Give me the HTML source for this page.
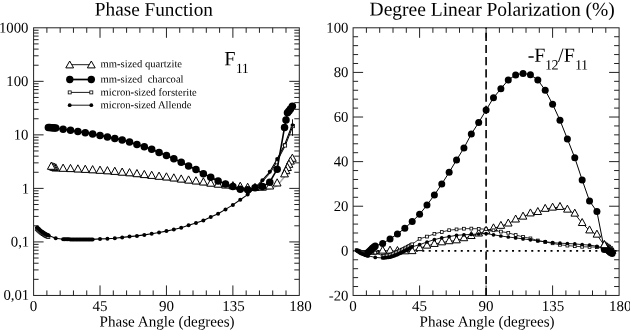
<!DOCTYPE html>
<html><head><meta charset="utf-8"><title>Phase Function / Degree Linear Polarization</title>
<style>html,body{margin:0;padding:0;background:#fff}svg{display:block;will-change:transform}text{font-family:"Liberation Serif",serif;fill:#000}</style></head><body>
<svg width="630" height="330" viewBox="0 0 630 330">
<rect width="630" height="330" fill="#fff"/>
<text x="94.8" y="15.6" font-size="19.25" transform="rotate(0.03 94.8 15.6)">Phase Function</text>
<text x="369.6" y="15.6" font-size="19.5" transform="rotate(0.03 369.6 15.6)">Degree Linear Polarization (%)</text>
<text x="99.6" y="326.4" font-size="15.1" transform="rotate(0.03 99.6 326.4)">Phase Angle (degrees)</text>
<text x="419.6" y="326.4" font-size="15.1" transform="rotate(0.03 419.6 326.4)">Phase Angle (degrees)</text>
<text x="29.2" y="299.65" font-size="14.75" text-anchor="end" transform="rotate(0.03 29.2 299.65)">0,01</text>
<text x="29.2" y="246.62" font-size="14.75" text-anchor="end" transform="rotate(0.03 29.2 246.62)">0,1</text>
<text x="29.2" y="193.49" font-size="14.75" text-anchor="end" transform="rotate(0.03 29.2 193.49)">1</text>
<text x="28.4" y="139.56" font-size="14.75" text-anchor="end" transform="rotate(0.03 28.4 139.56)">10</text>
<text x="28.4" y="86.03" font-size="14.75" text-anchor="end" transform="rotate(0.03 28.4 86.03)">100</text>
<text x="28.4" y="32.5" font-size="14.75" text-anchor="end" transform="rotate(0.03 28.4 32.5)">1000</text>
<text x="348.4" y="300.45" font-size="14.75" text-anchor="end" transform="rotate(0.03 348.4 300.45)">-20</text>
<text x="348.4" y="255.54" font-size="14.75" text-anchor="end" transform="rotate(0.03 348.4 255.54)">0</text>
<text x="348.4" y="210.93" font-size="14.75" text-anchor="end" transform="rotate(0.03 348.4 210.93)">20</text>
<text x="348.4" y="166.32" font-size="14.75" text-anchor="end" transform="rotate(0.03 348.4 166.32)">40</text>
<text x="348.4" y="121.72" font-size="14.75" text-anchor="end" transform="rotate(0.03 348.4 121.72)">60</text>
<text x="348.4" y="77.11" font-size="14.75" text-anchor="end" transform="rotate(0.03 348.4 77.11)">80</text>
<text x="348.4" y="32.5" font-size="14.75" text-anchor="end" transform="rotate(0.03 348.4 32.5)">100</text>
<text x="33.6" y="311.0" font-size="15" text-anchor="middle" transform="rotate(0.03 33.6 311.0)">0</text>
<text x="353.1" y="311.0" font-size="15" text-anchor="middle" transform="rotate(0.03 353.1 311.0)">0</text>
<text x="100.03" y="311.0" font-size="15" text-anchor="middle" transform="rotate(0.03 100.03 311.0)">45</text>
<text x="419.6" y="311.0" font-size="15" text-anchor="middle" transform="rotate(0.03 419.6 311.0)">45</text>
<text x="166.45" y="311.0" font-size="15" text-anchor="middle" transform="rotate(0.03 166.45 311.0)">90</text>
<text x="486.1" y="311.0" font-size="15" text-anchor="middle" transform="rotate(0.03 486.1 311.0)">90</text>
<text x="233.38" y="311.0" font-size="15" text-anchor="middle" transform="rotate(0.03 233.38 311.0)">135</text>
<text x="553.1" y="311.0" font-size="15" text-anchor="middle" transform="rotate(0.03 553.1 311.0)">135</text>
<text x="300.5" y="311.0" font-size="15" text-anchor="middle" transform="rotate(0.03 300.5 311.0)">180</text>
<text x="620.3" y="311.0" font-size="15" text-anchor="middle" transform="rotate(0.03 620.3 311.0)">180</text>
<g id="left">
<rect x="33.6" y="27.8" width="265.7" height="267.65" fill="none" stroke="#222" stroke-width="1"/>
<path d="M46.88 295.45v-5M46.88 27.8v5M60.17 295.45v-5M60.17 27.8v5M73.45 295.45v-5M73.45 27.8v5M86.74 295.45v-5M86.74 27.8v5M100.03 295.45v-10M100.03 27.8v10M113.31 295.45v-5M113.31 27.8v5M126.59 295.45v-5M126.59 27.8v5M139.88 295.45v-5M139.88 27.8v5M153.16 295.45v-5M153.16 27.8v5M166.45 295.45v-10M166.45 27.8v10M179.73 295.45v-5M179.73 27.8v5M193.02 295.45v-5M193.02 27.8v5M206.3 295.45v-5M206.3 27.8v5M219.59 295.45v-5M219.59 27.8v5M232.88 295.45v-10M232.88 27.8v10M246.16 295.45v-5M246.16 27.8v5M259.44 295.45v-5M259.44 27.8v5M272.73 295.45v-5M272.73 27.8v5M286.01 295.45v-5M286.01 27.8v5M33.6 241.92h10M299.3 241.92h-10M33.6 188.39h10M299.3 188.39h-10M33.6 134.86h10M299.3 134.86h-10M33.6 81.33h10M299.3 81.33h-10M33.6 279.34h5M299.3 279.34h-5M33.6 269.91h5M299.3 269.91h-5M33.6 263.22h5M299.3 263.22h-5M33.6 258.03h5M299.3 258.03h-5M33.6 253.8h5M299.3 253.8h-5M33.6 250.21h5M299.3 250.21h-5M33.6 247.11h5M299.3 247.11h-5M33.6 244.37h5M299.3 244.37h-5M33.6 225.81h5M299.3 225.81h-5M33.6 216.38h5M299.3 216.38h-5M33.6 209.69h5M299.3 209.69h-5M33.6 204.5h5M299.3 204.5h-5M33.6 200.27h5M299.3 200.27h-5M33.6 196.68h5M299.3 196.68h-5M33.6 193.58h5M299.3 193.58h-5M33.6 190.84h5M299.3 190.84h-5M33.6 172.28h5M299.3 172.28h-5M33.6 162.85h5M299.3 162.85h-5M33.6 156.16h5M299.3 156.16h-5M33.6 150.97h5M299.3 150.97h-5M33.6 146.74h5M299.3 146.74h-5M33.6 143.15h5M299.3 143.15h-5M33.6 140.05h5M299.3 140.05h-5M33.6 137.31h5M299.3 137.31h-5M33.6 118.75h5M299.3 118.75h-5M33.6 109.32h5M299.3 109.32h-5M33.6 102.63h5M299.3 102.63h-5M33.6 97.44h5M299.3 97.44h-5M33.6 93.21h5M299.3 93.21h-5M33.6 89.62h5M299.3 89.62h-5M33.6 86.52h5M299.3 86.52h-5M33.6 83.78h5M299.3 83.78h-5M33.6 65.22h5M299.3 65.22h-5M33.6 55.79h5M299.3 55.79h-5M33.6 49.1h5M299.3 49.1h-5M33.6 43.91h5M299.3 43.91h-5M33.6 39.68h5M299.3 39.68h-5M33.6 36.09h5M299.3 36.09h-5M33.6 32.99h5M299.3 32.99h-5M33.6 30.25h5M299.3 30.25h-5" stroke="#222" stroke-width="1" fill="none"/>
<polyline points="51.31,169.1 52.79,169.67 54.27,170.23 55.74,170.8 63.12,171.1 70.5,171.4 77.88,171.8 85.26,172.2 92.64,172.6 100.03,173.1 107.41,173.6 114.79,174.2 122.17,175 129.55,175.6 136.93,176.5 144.31,177.4 151.69,178.2 159.07,179.1 166.45,179.8 173.83,180.8 181.21,181.9 188.59,182.9 195.97,183.8 203.35,184.8 210.73,186 218.11,187 225.49,187.8 232.88,188.6 240.26,189.2 247.64,190.2 255.02,190.3 262.4,190 269.78,188.8 277.16,185.8 284.54,176.7" fill="none" stroke="#aaa" stroke-width="1.4" stroke-linejoin="round"/>
<path d="M292.36 154.1L296.26 161.3H288.46Z" fill="#fff" stroke="#000" stroke-width="1.0"/>
<path d="M290.44 156.9L294.34 164.1H286.54Z" fill="#fff" stroke="#000" stroke-width="1.0"/>
<path d="M288.97 160.1L292.87 167.3H285.07Z" fill="#fff" stroke="#000" stroke-width="1.0"/>
<path d="M287.49 163.3L291.39 170.5H283.59Z" fill="#fff" stroke="#000" stroke-width="1.0"/>
<path d="M286.01 166.5L289.91 173.7H282.12Z" fill="#fff" stroke="#000" stroke-width="1.0"/>
<path d="M284.54 169.7L288.44 176.9H280.64Z" fill="#fff" stroke="#000" stroke-width="1.0"/>
<path d="M277.16 178.8L281.06 186H273.26Z" fill="#fff" stroke="#000" stroke-width="1.0"/>
<path d="M269.78 181.8L273.68 189H265.88Z" fill="#fff" stroke="#000" stroke-width="1.0"/>
<path d="M262.4 183L266.3 190.2H258.5Z" fill="#fff" stroke="#000" stroke-width="1.0"/>
<path d="M255.02 183.3L258.92 190.5H251.12Z" fill="#fff" stroke="#000" stroke-width="1.0"/>
<path d="M247.64 183.2L251.54 190.4H243.74Z" fill="#fff" stroke="#000" stroke-width="1.0"/>
<path d="M240.26 182.2L244.16 189.4H236.36Z" fill="#fff" stroke="#000" stroke-width="1.0"/>
<path d="M232.88 181.6L236.78 188.8H228.97Z" fill="#fff" stroke="#000" stroke-width="1.0"/>
<path d="M225.49 180.8L229.39 188H221.59Z" fill="#fff" stroke="#000" stroke-width="1.0"/>
<path d="M218.11 180L222.01 187.2H214.21Z" fill="#fff" stroke="#000" stroke-width="1.0"/>
<path d="M210.73 179L214.63 186.2H206.83Z" fill="#fff" stroke="#000" stroke-width="1.0"/>
<path d="M203.35 177.8L207.25 185H199.45Z" fill="#fff" stroke="#000" stroke-width="1.0"/>
<path d="M195.97 176.8L199.87 184H192.07Z" fill="#fff" stroke="#000" stroke-width="1.0"/>
<path d="M188.59 175.9L192.49 183.1H184.69Z" fill="#fff" stroke="#000" stroke-width="1.0"/>
<path d="M181.21 174.9L185.11 182.1H177.31Z" fill="#fff" stroke="#000" stroke-width="1.0"/>
<path d="M173.83 173.8L177.73 181H169.93Z" fill="#fff" stroke="#000" stroke-width="1.0"/>
<path d="M166.45 172.8L170.35 180H162.55Z" fill="#fff" stroke="#000" stroke-width="1.0"/>
<path d="M159.07 172.1L162.97 179.3H155.17Z" fill="#fff" stroke="#000" stroke-width="1.0"/>
<path d="M151.69 171.2L155.59 178.4H147.79Z" fill="#fff" stroke="#000" stroke-width="1.0"/>
<path d="M144.31 170.4L148.21 177.6H140.41Z" fill="#fff" stroke="#000" stroke-width="1.0"/>
<path d="M136.93 169.5L140.83 176.7H133.03Z" fill="#fff" stroke="#000" stroke-width="1.0"/>
<path d="M129.55 168.6L133.45 175.8H125.65Z" fill="#fff" stroke="#000" stroke-width="1.0"/>
<path d="M122.17 168L126.07 175.2H118.27Z" fill="#fff" stroke="#000" stroke-width="1.0"/>
<path d="M114.79 167.2L118.69 174.4H110.89Z" fill="#fff" stroke="#000" stroke-width="1.0"/>
<path d="M107.41 166.6L111.31 173.8H103.51Z" fill="#fff" stroke="#000" stroke-width="1.0"/>
<path d="M100.03 166.1L103.93 173.3H96.12Z" fill="#fff" stroke="#000" stroke-width="1.0"/>
<path d="M92.64 165.6L96.54 172.8H88.74Z" fill="#fff" stroke="#000" stroke-width="1.0"/>
<path d="M85.26 165.2L89.16 172.4H81.36Z" fill="#fff" stroke="#000" stroke-width="1.0"/>
<path d="M77.88 164.8L81.78 172H73.98Z" fill="#fff" stroke="#000" stroke-width="1.0"/>
<path d="M70.5 164.4L74.4 171.6H66.6Z" fill="#fff" stroke="#000" stroke-width="1.0"/>
<path d="M63.12 164.1L67.02 171.3H59.22Z" fill="#fff" stroke="#000" stroke-width="1.0"/>
<path d="M55.74 163.8L59.64 171H51.84Z" fill="#fff" stroke="#000" stroke-width="1.0"/>
<path d="M54.27 163.23L58.17 170.43H50.37Z" fill="#fff" stroke="#000" stroke-width="1.0"/>
<path d="M52.79 162.67L56.69 169.87H48.89Z" fill="#fff" stroke="#000" stroke-width="1.0"/>
<path d="M51.31 162.1L55.21 169.3H47.41Z" fill="#fff" stroke="#000" stroke-width="1.0"/>
<polyline points="37.14,227.5 38.03,228.31 38.91,229.12 39.8,229.92 40.69,230.73 41.57,231.4 42.46,232 43.34,232.6 44.23,233.2 45.11,233.8 46,234.28 46.88,234.69 47.77,235.11 48.66,235.52 55.74,238.2 63.12,239.2 64.6,239.24 66.07,239.28 67.55,239.32 69.03,239.36 70.5,239.4 71.98,239.44 73.45,239.48 74.93,239.52 76.41,239.56 77.88,239.6 79.36,239.58 80.84,239.56 82.31,239.54 83.79,239.52 85.26,239.5 86.74,239.48 88.22,239.46 89.69,239.44 91.17,239.42 92.64,239.4 100.03,238.9 107.41,238.7 114.79,238.2 122.17,237.4 129.55,236.6 136.93,235.9 144.31,234.9 151.69,233.8 159.07,232.5 166.45,231.1 173.83,229.5 181.21,227.7 188.59,225.3 195.97,222.9 203.35,220.4 210.73,217.1 218.11,213.8 225.49,209.4 232.88,204.9 240.26,199.8 247.64,194.6 255.02,187.8 262.4,180.2 269.78,171.8 277.16,159 284.54,144.9 292.51,124.3" fill="none" stroke="#000" stroke-width="1.1" stroke-linejoin="round"/>
<polyline points="255.82,188.4 263.2,180.8 270.58,172.4 277.96,159.6 285.34,145.5 293.31,124.9" fill="none" stroke="#000" stroke-width="1" stroke-linejoin="round"/>
<rect x="35.34" y="227.5" width="3.0" height="3.0" fill="#fff" stroke="#000" stroke-width="0.8"/>
<rect x="36.23" y="228.31" width="3.0" height="3.0" fill="#fff" stroke="#000" stroke-width="0.8"/>
<rect x="37.11" y="229.12" width="3.0" height="3.0" fill="#fff" stroke="#000" stroke-width="0.8"/>
<rect x="38" y="229.92" width="3.0" height="3.0" fill="#fff" stroke="#000" stroke-width="0.8"/>
<rect x="38.89" y="230.73" width="3.0" height="3.0" fill="#fff" stroke="#000" stroke-width="0.8"/>
<rect x="39.77" y="231.4" width="3.0" height="3.0" fill="#fff" stroke="#000" stroke-width="0.8"/>
<rect x="40.66" y="232" width="3.0" height="3.0" fill="#fff" stroke="#000" stroke-width="0.8"/>
<rect x="41.54" y="232.6" width="3.0" height="3.0" fill="#fff" stroke="#000" stroke-width="0.8"/>
<rect x="42.43" y="233.2" width="3.0" height="3.0" fill="#fff" stroke="#000" stroke-width="0.8"/>
<rect x="43.31" y="233.8" width="3.0" height="3.0" fill="#fff" stroke="#000" stroke-width="0.8"/>
<rect x="44.2" y="234.28" width="3.0" height="3.0" fill="#fff" stroke="#000" stroke-width="0.8"/>
<rect x="45.09" y="234.69" width="3.0" height="3.0" fill="#fff" stroke="#000" stroke-width="0.8"/>
<rect x="45.97" y="235.11" width="3.0" height="3.0" fill="#fff" stroke="#000" stroke-width="0.8"/>
<rect x="46.86" y="235.52" width="3.0" height="3.0" fill="#fff" stroke="#000" stroke-width="0.8"/>
<circle cx="37.14" cy="227.5" r="2.0" fill="#000"/>
<circle cx="38.03" cy="228.31" r="2.0" fill="#000"/>
<circle cx="38.91" cy="229.12" r="2.0" fill="#000"/>
<circle cx="39.8" cy="229.92" r="2.0" fill="#000"/>
<circle cx="40.69" cy="230.73" r="2.0" fill="#000"/>
<circle cx="41.57" cy="231.4" r="2.0" fill="#000"/>
<circle cx="42.46" cy="232" r="2.0" fill="#000"/>
<circle cx="43.34" cy="232.6" r="2.0" fill="#000"/>
<circle cx="44.23" cy="233.2" r="2.0" fill="#000"/>
<circle cx="45.11" cy="233.8" r="2.0" fill="#000"/>
<circle cx="46" cy="234.28" r="2.0" fill="#000"/>
<circle cx="46.88" cy="234.69" r="2.0" fill="#000"/>
<circle cx="47.77" cy="235.11" r="2.0" fill="#000"/>
<circle cx="48.66" cy="235.52" r="2.0" fill="#000"/>
<circle cx="55.74" cy="238.2" r="2.0" fill="#000"/>
<circle cx="63.12" cy="239.2" r="2.0" fill="#000"/>
<circle cx="64.6" cy="239.24" r="2.0" fill="#000"/>
<circle cx="66.07" cy="239.28" r="2.0" fill="#000"/>
<circle cx="67.55" cy="239.32" r="2.0" fill="#000"/>
<circle cx="69.03" cy="239.36" r="2.0" fill="#000"/>
<circle cx="70.5" cy="239.4" r="2.0" fill="#000"/>
<circle cx="71.98" cy="239.44" r="2.0" fill="#000"/>
<circle cx="73.45" cy="239.48" r="2.0" fill="#000"/>
<circle cx="74.93" cy="239.52" r="2.0" fill="#000"/>
<circle cx="76.41" cy="239.56" r="2.0" fill="#000"/>
<circle cx="77.88" cy="239.6" r="2.0" fill="#000"/>
<circle cx="79.36" cy="239.58" r="2.0" fill="#000"/>
<circle cx="80.84" cy="239.56" r="2.0" fill="#000"/>
<circle cx="82.31" cy="239.54" r="2.0" fill="#000"/>
<circle cx="83.79" cy="239.52" r="2.0" fill="#000"/>
<circle cx="85.26" cy="239.5" r="2.0" fill="#000"/>
<circle cx="86.74" cy="239.48" r="2.0" fill="#000"/>
<circle cx="88.22" cy="239.46" r="2.0" fill="#000"/>
<circle cx="89.69" cy="239.44" r="2.0" fill="#000"/>
<circle cx="91.17" cy="239.42" r="2.0" fill="#000"/>
<circle cx="92.64" cy="239.4" r="2.0" fill="#000"/>
<circle cx="100.03" cy="238.9" r="2.0" fill="#000"/>
<circle cx="107.41" cy="238.7" r="2.0" fill="#000"/>
<circle cx="114.79" cy="238.2" r="2.0" fill="#000"/>
<circle cx="122.17" cy="237.4" r="2.0" fill="#000"/>
<circle cx="129.55" cy="236.6" r="2.0" fill="#000"/>
<circle cx="136.93" cy="235.9" r="2.0" fill="#000"/>
<circle cx="144.31" cy="234.9" r="2.0" fill="#000"/>
<circle cx="151.69" cy="233.8" r="2.0" fill="#000"/>
<circle cx="159.07" cy="232.5" r="2.0" fill="#000"/>
<circle cx="166.45" cy="231.1" r="2.0" fill="#000"/>
<circle cx="173.83" cy="229.5" r="2.0" fill="#000"/>
<circle cx="181.21" cy="227.7" r="2.0" fill="#000"/>
<circle cx="188.59" cy="225.3" r="2.0" fill="#000"/>
<circle cx="195.97" cy="222.9" r="2.0" fill="#000"/>
<circle cx="203.35" cy="220.4" r="2.0" fill="#000"/>
<circle cx="210.73" cy="217.1" r="2.0" fill="#000"/>
<circle cx="218.11" cy="213.8" r="2.0" fill="#000"/>
<circle cx="225.49" cy="209.4" r="2.0" fill="#000"/>
<circle cx="232.88" cy="204.9" r="2.0" fill="#000"/>
<circle cx="240.26" cy="199.8" r="2.0" fill="#000"/>
<circle cx="247.64" cy="194.6" r="2.0" fill="#000"/>
<circle cx="255.02" cy="187.8" r="2.0" fill="#000"/>
<circle cx="262.4" cy="180.2" r="2.0" fill="#000"/>
<circle cx="269.78" cy="171.8" r="2.0" fill="#000"/>
<circle cx="277.16" cy="159" r="2.0" fill="#000"/>
<circle cx="284.54" cy="144.9" r="2.0" fill="#000"/>
<path d="M292.51 119.3V135.8" stroke="#000" stroke-width="0.9"/>
<rect x="291.21" y="124.5" width="3.2" height="3.2" fill="#fff" stroke="#000" stroke-width="0.8"/>
<circle cx="292.51" cy="125.1" r="1.8" fill="#000"/>
<rect x="283.44" y="143.9" width="3.2" height="3.2" fill="#fff" stroke="#000" stroke-width="0.8"/>
<rect x="275.36" y="160.9" width="3.0" height="3.0" fill="#fff" stroke="#000" stroke-width="0.8"/>
<polyline points="48.36,127.5 49.84,127.6 51.31,127.7 52.79,127.8 54.27,127.9 55.74,128 63.12,129.3 70.5,130.3 77.88,131.6 85.26,132.8 92.64,134.1 100.03,135.4 107.41,136.9 114.79,138.4 122.17,139.9 129.55,142 136.93,144.5 144.31,146.8 151.69,149.3 159.07,152.4 166.45,155.4 173.83,158.7 181.21,162.3 188.59,166 195.97,169.5 203.35,173.8 210.73,177.3 218.11,181 225.49,183.9 232.88,186.6 240.26,189.2 247.64,189.7 255.02,187.8 262.4,186.6 269.78,182.2 277.16,169.2 284.54,127.4 286.01,119.9 287.49,112.8 288.97,111 290.44,109 292.36,106.2" fill="none" stroke="#000" stroke-width="1.6" stroke-linejoin="round"/>
<circle cx="48.36" cy="127.5" r="3.75" fill="#000"/>
<circle cx="49.84" cy="127.6" r="3.75" fill="#000"/>
<circle cx="51.31" cy="127.7" r="3.75" fill="#000"/>
<circle cx="52.79" cy="127.8" r="3.75" fill="#000"/>
<circle cx="54.27" cy="127.9" r="3.75" fill="#000"/>
<circle cx="55.74" cy="128" r="3.75" fill="#000"/>
<circle cx="63.12" cy="129.3" r="3.75" fill="#000"/>
<circle cx="70.5" cy="130.3" r="3.75" fill="#000"/>
<circle cx="77.88" cy="131.6" r="3.75" fill="#000"/>
<circle cx="85.26" cy="132.8" r="3.75" fill="#000"/>
<circle cx="92.64" cy="134.1" r="3.75" fill="#000"/>
<circle cx="100.03" cy="135.4" r="3.75" fill="#000"/>
<circle cx="107.41" cy="136.9" r="3.75" fill="#000"/>
<circle cx="114.79" cy="138.4" r="3.75" fill="#000"/>
<circle cx="122.17" cy="139.9" r="3.75" fill="#000"/>
<circle cx="129.55" cy="142" r="3.75" fill="#000"/>
<circle cx="136.93" cy="144.5" r="3.75" fill="#000"/>
<circle cx="144.31" cy="146.8" r="3.75" fill="#000"/>
<circle cx="151.69" cy="149.3" r="3.75" fill="#000"/>
<circle cx="159.07" cy="152.4" r="3.75" fill="#000"/>
<circle cx="166.45" cy="155.4" r="3.75" fill="#000"/>
<circle cx="173.83" cy="158.7" r="3.75" fill="#000"/>
<circle cx="181.21" cy="162.3" r="3.75" fill="#000"/>
<circle cx="188.59" cy="166" r="3.75" fill="#000"/>
<circle cx="195.97" cy="169.5" r="3.75" fill="#000"/>
<circle cx="203.35" cy="173.8" r="3.75" fill="#000"/>
<circle cx="210.73" cy="177.3" r="3.75" fill="#000"/>
<circle cx="218.11" cy="181" r="3.75" fill="#000"/>
<circle cx="225.49" cy="183.9" r="3.75" fill="#000"/>
<circle cx="232.88" cy="186.6" r="3.75" fill="#000"/>
<circle cx="240.26" cy="189.2" r="3.75" fill="#000"/>
<circle cx="247.64" cy="189.7" r="3.75" fill="#000"/>
<circle cx="255.02" cy="187.8" r="3.75" fill="#000"/>
<circle cx="262.4" cy="186.6" r="3.75" fill="#000"/>
<circle cx="269.78" cy="182.2" r="3.75" fill="#000"/>
<circle cx="277.16" cy="169.2" r="3.75" fill="#000"/>
<circle cx="284.54" cy="127.4" r="3.75" fill="#000"/>
<circle cx="286.01" cy="119.9" r="3.75" fill="#000"/>
<circle cx="287.49" cy="112.8" r="3.75" fill="#000"/>
<circle cx="288.97" cy="111" r="3.75" fill="#000"/>
<circle cx="290.44" cy="109" r="3.75" fill="#000"/>
<circle cx="292.36" cy="106.2" r="3.75" fill="#000"/>
<path d="M69.7 64.7H91.3" stroke="#000" stroke-width="0.9"/>
<path d="M69.7 61L73.6 67.9H65.8Z" fill="#fff" stroke="#000" stroke-width="1.0"/>
<path d="M91.3 61L95.2 67.9H87.4Z" fill="#fff" stroke="#000" stroke-width="1.0"/>
<path d="M69.7 79.5H91.3" stroke="#000" stroke-width="1.7"/>
<circle cx="69.8" cy="79.5" r="3.7" fill="#000"/>
<circle cx="91.3" cy="79.5" r="3.7" fill="#000"/>
<path d="M69.7 92.4H91.3" stroke="#000" stroke-width="0.9"/>
<rect x="68.2" y="90.9" width="3.0" height="3.0" fill="#fff" stroke="#000" stroke-width="0.8"/>
<rect x="89.8" y="90.9" width="3.0" height="3.0" fill="#fff" stroke="#000" stroke-width="0.8"/>
<path d="M69.7 105.2H91.3" stroke="#000" stroke-width="0.9"/>
<circle cx="69.7" cy="105.2" r="1.9" fill="#000"/>
<circle cx="91.3" cy="105.2" r="1.9" fill="#000"/>
<text x="100.6" y="67.3" font-size="10.6" transform="rotate(0.03 100.6 67.3)">mm-sized quartzite</text>
<text x="100.6" y="82.4" font-size="10.6" xml:space="preserve" transform="rotate(0.03 100.6 82.4)">mm-sized  charcoal</text>
<text x="100.6" y="95.6" font-size="10.6" transform="rotate(0.03 100.6 95.6)">micron-sized forsterite</text>
<text x="100.6" y="108.3" font-size="10.6" transform="rotate(0.03 100.6 108.3)">micron-sized Allende</text>
<text x="224.2" y="65.3" font-size="20.2" transform="rotate(0.03 224.2 65.3)">F</text><text x="235.8" y="73.1" font-size="14.2" letter-spacing="-0.5" transform="rotate(0.03 235.8 73.1)">11</text>
</g>
<g id="right">
<rect x="353.1" y="27.8" width="266" height="267.65" fill="none" stroke="#222" stroke-width="1"/>
<path d="M366.4 295.45v-5M366.4 27.8v5M379.7 295.45v-5M379.7 27.8v5M393 295.45v-5M393 27.8v5M406.3 295.45v-5M406.3 27.8v5M419.6 295.45v-10M419.6 27.8v10M432.9 295.45v-5M432.9 27.8v5M446.2 295.45v-5M446.2 27.8v5M459.5 295.45v-5M459.5 27.8v5M472.8 295.45v-5M472.8 27.8v5M486.1 295.45v-10M486.1 27.8v10M499.4 295.45v-5M499.4 27.8v5M512.7 295.45v-5M512.7 27.8v5M526 295.45v-5M526 27.8v5M539.3 295.45v-5M539.3 27.8v5M552.6 295.45v-10M552.6 27.8v10M565.9 295.45v-5M565.9 27.8v5M579.2 295.45v-5M579.2 27.8v5M592.5 295.45v-5M592.5 27.8v5M605.8 295.45v-5M605.8 27.8v5M353.1 250.84h10M619.1 250.84h-10M353.1 206.23h10M619.1 206.23h-10M353.1 161.62h10M619.1 161.62h-10M353.1 117.02h10M619.1 117.02h-10M353.1 72.41h10M619.1 72.41h-10M353.1 286.53h5M619.1 286.53h-5M353.1 277.61h5M619.1 277.61h-5M353.1 268.69h5M619.1 268.69h-5M353.1 259.76h5M619.1 259.76h-5M353.1 241.92h5M619.1 241.92h-5M353.1 233h5M619.1 233h-5M353.1 224.08h5M619.1 224.08h-5M353.1 215.15h5M619.1 215.15h-5M353.1 197.31h5M619.1 197.31h-5M353.1 188.39h5M619.1 188.39h-5M353.1 179.47h5M619.1 179.47h-5M353.1 170.55h5M619.1 170.55h-5M353.1 152.7h5M619.1 152.7h-5M353.1 143.78h5M619.1 143.78h-5M353.1 134.86h5M619.1 134.86h-5M353.1 125.94h5M619.1 125.94h-5M353.1 108.09h5M619.1 108.09h-5M353.1 99.17h5M619.1 99.17h-5M353.1 90.25h5M619.1 90.25h-5M353.1 81.33h5M619.1 81.33h-5M353.1 63.49h5M619.1 63.49h-5M353.1 54.57h5M619.1 54.57h-5M353.1 45.64h5M619.1 45.64h-5M353.1 36.72h5M619.1 36.72h-5" stroke="#222" stroke-width="1" fill="none"/>
<path d="M353.1 250.84H619.1" stroke="#000" stroke-width="1.9" stroke-dasharray="2 4.41" stroke-dashoffset="1.32"/>
<path d="M486.1 27.8V295.45" stroke="#000" stroke-width="1.6" stroke-dasharray="8.2 3.96" stroke-dashoffset="7.22"/>
<polyline points="370.83,251.5 372.31,251.5 373.79,251.5 375.27,251.5 382.66,250.8 390.04,250.8 397.43,251.2 404.82,251.5 412.21,251.3 419.6,248.3 426.99,245.8 434.38,244.1 441.77,242.5 449.16,241.4 456.54,240.5 463.93,238.4 471.32,236.2 478.71,233.7 486.1,231 493.49,228.5 500.88,226 508.27,223.7 515.66,219.7 523.04,216.8 530.43,213.6 537.82,212.2 545.21,209 552.6,207.8 559.99,207.1 567.38,209.8 574.77,213.8 582.16,223.2 589.54,230.6 596.93,234.8 604.32,245.3 605.8,246.5 607.28,247.5 608.76,248.5 610.23,249.5 612.15,251" fill="none" stroke="#000" stroke-width="0.9" stroke-linejoin="round"/>
<path d="M612.15 246.33L615.95 253.33H608.35Z" fill="#fff" stroke="#000" stroke-width="1.0"/>
<path d="M610.23 244.83L614.03 251.83H606.43Z" fill="#fff" stroke="#000" stroke-width="1.0"/>
<path d="M608.76 243.83L612.56 250.83H604.96Z" fill="#fff" stroke="#000" stroke-width="1.0"/>
<path d="M607.28 242.83L611.08 249.83H603.48Z" fill="#fff" stroke="#000" stroke-width="1.0"/>
<path d="M605.8 241.83L609.6 248.83H602Z" fill="#fff" stroke="#000" stroke-width="1.0"/>
<path d="M604.32 240.63L608.12 247.63H600.52Z" fill="#fff" stroke="#000" stroke-width="1.0"/>
<path d="M596.93 230.13L600.73 237.13H593.13Z" fill="#fff" stroke="#000" stroke-width="1.0"/>
<path d="M589.54 225.93L593.34 232.93H585.74Z" fill="#fff" stroke="#000" stroke-width="1.0"/>
<path d="M582.16 218.53L585.96 225.53H578.36Z" fill="#fff" stroke="#000" stroke-width="1.0"/>
<path d="M574.77 209.13L578.57 216.13H570.97Z" fill="#fff" stroke="#000" stroke-width="1.0"/>
<path d="M567.38 205.13L571.18 212.13H563.58Z" fill="#fff" stroke="#000" stroke-width="1.0"/>
<path d="M559.99 202.43L563.79 209.43H556.19Z" fill="#fff" stroke="#000" stroke-width="1.0"/>
<path d="M552.6 203.13L556.4 210.13H548.8Z" fill="#fff" stroke="#000" stroke-width="1.0"/>
<path d="M545.21 204.33L549.01 211.33H541.41Z" fill="#fff" stroke="#000" stroke-width="1.0"/>
<path d="M537.82 207.53L541.62 214.53H534.02Z" fill="#fff" stroke="#000" stroke-width="1.0"/>
<path d="M530.43 208.93L534.23 215.93H526.63Z" fill="#fff" stroke="#000" stroke-width="1.0"/>
<path d="M523.04 212.13L526.84 219.13H519.24Z" fill="#fff" stroke="#000" stroke-width="1.0"/>
<path d="M515.66 215.03L519.46 222.03H511.86Z" fill="#fff" stroke="#000" stroke-width="1.0"/>
<path d="M508.27 219.03L512.07 226.03H504.47Z" fill="#fff" stroke="#000" stroke-width="1.0"/>
<path d="M500.88 221.33L504.68 228.33H497.08Z" fill="#fff" stroke="#000" stroke-width="1.0"/>
<path d="M493.49 223.83L497.29 230.83H489.69Z" fill="#fff" stroke="#000" stroke-width="1.0"/>
<path d="M486.1 226.33L489.9 233.33H482.3Z" fill="#fff" stroke="#000" stroke-width="1.0"/>
<path d="M478.71 229.03L482.51 236.03H474.91Z" fill="#fff" stroke="#000" stroke-width="1.0"/>
<path d="M471.32 231.53L475.12 238.53H467.52Z" fill="#fff" stroke="#000" stroke-width="1.0"/>
<path d="M463.93 233.73L467.73 240.73H460.13Z" fill="#fff" stroke="#000" stroke-width="1.0"/>
<path d="M456.54 235.83L460.34 242.83H452.74Z" fill="#fff" stroke="#000" stroke-width="1.0"/>
<path d="M449.16 236.73L452.96 243.73H445.36Z" fill="#fff" stroke="#000" stroke-width="1.0"/>
<path d="M441.77 237.83L445.57 244.83H437.97Z" fill="#fff" stroke="#000" stroke-width="1.0"/>
<path d="M434.38 239.43L438.18 246.43H430.58Z" fill="#fff" stroke="#000" stroke-width="1.0"/>
<path d="M426.99 241.13L430.79 248.13H423.19Z" fill="#fff" stroke="#000" stroke-width="1.0"/>
<path d="M419.6 243.63L423.4 250.63H415.8Z" fill="#fff" stroke="#000" stroke-width="1.0"/>
<path d="M412.21 246.63L416.01 253.63H408.41Z" fill="#fff" stroke="#000" stroke-width="1.0"/>
<path d="M404.82 246.83L408.62 253.83H401.02Z" fill="#fff" stroke="#000" stroke-width="1.0"/>
<path d="M397.43 246.53L401.23 253.53H393.63Z" fill="#fff" stroke="#000" stroke-width="1.0"/>
<path d="M390.04 246.13L393.84 253.13H386.24Z" fill="#fff" stroke="#000" stroke-width="1.0"/>
<path d="M382.66 246.13L386.46 253.13H378.86Z" fill="#fff" stroke="#000" stroke-width="1.0"/>
<path d="M375.27 246.83L379.07 253.83H371.47Z" fill="#fff" stroke="#000" stroke-width="1.0"/>
<path d="M373.79 246.83L377.59 253.83H369.99Z" fill="#fff" stroke="#000" stroke-width="1.0"/>
<path d="M372.31 246.83L376.11 253.83H368.51Z" fill="#fff" stroke="#000" stroke-width="1.0"/>
<path d="M370.83 246.83L374.63 253.83H367.03Z" fill="#fff" stroke="#000" stroke-width="1.0"/>
<polyline points="356.65,250.2 357.53,250.57 358.42,250.94 359.31,251.31 360.19,251.68 361.08,251.88 361.97,252 362.85,252.12 363.74,252.24 364.63,252.36 365.51,252.48 366.4,252.6 367.29,252.6 368.17,252.6 375.27,252.6 382.66,255.8 384.13,255.64 385.61,255.48 387.09,255.32 388.57,255.16 390.04,255 391.52,254.36 393,253.72 394.48,253.08 395.96,252.44 397.43,251.8 398.91,251.1 400.39,250.4 401.87,249.7 403.34,249 404.82,248.3 406.3,247.5 407.78,246.7 409.26,245.9 410.73,245.1 412.21,244.3 419.6,238.8 426.99,236.6 434.38,233.8 441.77,232 449.16,230.2 456.54,229.4 463.93,228.7 471.32,228.6 478.71,228.8 486.1,229.2 493.49,230.3 500.88,231.6 508.27,232.8 515.66,235 523.04,236.9 530.43,238.4 537.82,240.5 545.21,242 552.6,243.3 559.99,244.8 567.38,245.6 574.77,246.2 582.16,246.8 589.54,246.9 596.93,247.2 604.32,248.5 612.3,250" fill="none" stroke="#000" stroke-width="0.8" stroke-linejoin="round"/>
<rect x="355.25" y="248.8" width="2.8" height="2.8" fill="#fff" stroke="#000" stroke-width="0.8"/>
<rect x="356.13" y="249.17" width="2.8" height="2.8" fill="#fff" stroke="#000" stroke-width="0.8"/>
<rect x="357.02" y="249.54" width="2.8" height="2.8" fill="#fff" stroke="#000" stroke-width="0.8"/>
<rect x="357.91" y="249.91" width="2.8" height="2.8" fill="#fff" stroke="#000" stroke-width="0.8"/>
<rect x="358.79" y="250.28" width="2.8" height="2.8" fill="#fff" stroke="#000" stroke-width="0.8"/>
<rect x="359.68" y="250.48" width="2.8" height="2.8" fill="#fff" stroke="#000" stroke-width="0.8"/>
<rect x="360.57" y="250.6" width="2.8" height="2.8" fill="#fff" stroke="#000" stroke-width="0.8"/>
<rect x="361.45" y="250.72" width="2.8" height="2.8" fill="#fff" stroke="#000" stroke-width="0.8"/>
<rect x="362.34" y="250.84" width="2.8" height="2.8" fill="#fff" stroke="#000" stroke-width="0.8"/>
<rect x="363.23" y="250.96" width="2.8" height="2.8" fill="#fff" stroke="#000" stroke-width="0.8"/>
<rect x="364.11" y="251.08" width="2.8" height="2.8" fill="#fff" stroke="#000" stroke-width="0.8"/>
<rect x="365" y="251.2" width="2.8" height="2.8" fill="#fff" stroke="#000" stroke-width="0.8"/>
<rect x="365.89" y="251.2" width="2.8" height="2.8" fill="#fff" stroke="#000" stroke-width="0.8"/>
<rect x="366.77" y="251.2" width="2.8" height="2.8" fill="#fff" stroke="#000" stroke-width="0.8"/>
<rect x="373.87" y="251.2" width="2.8" height="2.8" fill="#fff" stroke="#000" stroke-width="0.8"/>
<rect x="381.26" y="254.4" width="2.8" height="2.8" fill="#fff" stroke="#000" stroke-width="0.8"/>
<rect x="382.73" y="254.24" width="2.8" height="2.8" fill="#fff" stroke="#000" stroke-width="0.8"/>
<rect x="384.21" y="254.08" width="2.8" height="2.8" fill="#fff" stroke="#000" stroke-width="0.8"/>
<rect x="385.69" y="253.92" width="2.8" height="2.8" fill="#fff" stroke="#000" stroke-width="0.8"/>
<rect x="387.17" y="253.76" width="2.8" height="2.8" fill="#fff" stroke="#000" stroke-width="0.8"/>
<rect x="388.64" y="253.6" width="2.8" height="2.8" fill="#fff" stroke="#000" stroke-width="0.8"/>
<rect x="390.12" y="252.96" width="2.8" height="2.8" fill="#fff" stroke="#000" stroke-width="0.8"/>
<rect x="391.6" y="252.32" width="2.8" height="2.8" fill="#fff" stroke="#000" stroke-width="0.8"/>
<rect x="393.08" y="251.68" width="2.8" height="2.8" fill="#fff" stroke="#000" stroke-width="0.8"/>
<rect x="394.56" y="251.04" width="2.8" height="2.8" fill="#fff" stroke="#000" stroke-width="0.8"/>
<rect x="396.03" y="250.4" width="2.8" height="2.8" fill="#fff" stroke="#000" stroke-width="0.8"/>
<rect x="397.51" y="249.7" width="2.8" height="2.8" fill="#fff" stroke="#000" stroke-width="0.8"/>
<rect x="398.99" y="249" width="2.8" height="2.8" fill="#fff" stroke="#000" stroke-width="0.8"/>
<rect x="400.47" y="248.3" width="2.8" height="2.8" fill="#fff" stroke="#000" stroke-width="0.8"/>
<rect x="401.94" y="247.6" width="2.8" height="2.8" fill="#fff" stroke="#000" stroke-width="0.8"/>
<rect x="403.42" y="246.9" width="2.8" height="2.8" fill="#fff" stroke="#000" stroke-width="0.8"/>
<rect x="404.9" y="246.1" width="2.8" height="2.8" fill="#fff" stroke="#000" stroke-width="0.8"/>
<rect x="406.38" y="245.3" width="2.8" height="2.8" fill="#fff" stroke="#000" stroke-width="0.8"/>
<rect x="407.86" y="244.5" width="2.8" height="2.8" fill="#fff" stroke="#000" stroke-width="0.8"/>
<rect x="409.33" y="243.7" width="2.8" height="2.8" fill="#fff" stroke="#000" stroke-width="0.8"/>
<rect x="410.81" y="242.9" width="2.8" height="2.8" fill="#fff" stroke="#000" stroke-width="0.8"/>
<rect x="418.2" y="237.4" width="2.8" height="2.8" fill="#fff" stroke="#000" stroke-width="0.8"/>
<rect x="425.59" y="235.2" width="2.8" height="2.8" fill="#fff" stroke="#000" stroke-width="0.8"/>
<rect x="432.98" y="232.4" width="2.8" height="2.8" fill="#fff" stroke="#000" stroke-width="0.8"/>
<rect x="440.37" y="230.6" width="2.8" height="2.8" fill="#fff" stroke="#000" stroke-width="0.8"/>
<rect x="447.76" y="228.8" width="2.8" height="2.8" fill="#fff" stroke="#000" stroke-width="0.8"/>
<rect x="455.14" y="228" width="2.8" height="2.8" fill="#fff" stroke="#000" stroke-width="0.8"/>
<rect x="462.53" y="227.3" width="2.8" height="2.8" fill="#fff" stroke="#000" stroke-width="0.8"/>
<rect x="469.92" y="227.2" width="2.8" height="2.8" fill="#fff" stroke="#000" stroke-width="0.8"/>
<rect x="477.31" y="227.4" width="2.8" height="2.8" fill="#fff" stroke="#000" stroke-width="0.8"/>
<rect x="484.7" y="227.8" width="2.8" height="2.8" fill="#fff" stroke="#000" stroke-width="0.8"/>
<rect x="492.09" y="228.9" width="2.8" height="2.8" fill="#fff" stroke="#000" stroke-width="0.8"/>
<rect x="499.48" y="230.2" width="2.8" height="2.8" fill="#fff" stroke="#000" stroke-width="0.8"/>
<rect x="506.87" y="231.4" width="2.8" height="2.8" fill="#fff" stroke="#000" stroke-width="0.8"/>
<rect x="514.26" y="233.6" width="2.8" height="2.8" fill="#fff" stroke="#000" stroke-width="0.8"/>
<rect x="521.64" y="235.5" width="2.8" height="2.8" fill="#fff" stroke="#000" stroke-width="0.8"/>
<rect x="529.03" y="237" width="2.8" height="2.8" fill="#fff" stroke="#000" stroke-width="0.8"/>
<rect x="536.42" y="239.1" width="2.8" height="2.8" fill="#fff" stroke="#000" stroke-width="0.8"/>
<rect x="543.81" y="240.6" width="2.8" height="2.8" fill="#fff" stroke="#000" stroke-width="0.8"/>
<rect x="551.2" y="241.9" width="2.8" height="2.8" fill="#fff" stroke="#000" stroke-width="0.8"/>
<rect x="558.59" y="243.4" width="2.8" height="2.8" fill="#fff" stroke="#000" stroke-width="0.8"/>
<rect x="565.98" y="244.2" width="2.8" height="2.8" fill="#fff" stroke="#000" stroke-width="0.8"/>
<rect x="573.37" y="244.8" width="2.8" height="2.8" fill="#fff" stroke="#000" stroke-width="0.8"/>
<rect x="580.76" y="245.4" width="2.8" height="2.8" fill="#fff" stroke="#000" stroke-width="0.8"/>
<rect x="588.14" y="245.5" width="2.8" height="2.8" fill="#fff" stroke="#000" stroke-width="0.8"/>
<rect x="595.53" y="245.8" width="2.8" height="2.8" fill="#fff" stroke="#000" stroke-width="0.8"/>
<rect x="602.92" y="247.1" width="2.8" height="2.8" fill="#fff" stroke="#000" stroke-width="0.8"/>
<rect x="610.9" y="248.6" width="2.8" height="2.8" fill="#fff" stroke="#000" stroke-width="0.8"/>
<polyline points="356.65,250.4 357.53,251.05 358.42,251.69 359.31,252.34 360.19,252.98 361.08,253.43 361.97,253.77 362.85,254.12 363.74,254.47 364.63,254.81 365.51,255.16 366.4,255.5 367.29,255.69 368.17,255.88 375.27,257.4 382.66,258 384.13,257.84 385.61,257.68 387.09,257.52 388.57,257.36 390.04,257.2 391.52,256.68 393,256.16 394.48,255.64 395.96,255.12 397.43,254.6 398.91,253.88 400.39,253.16 401.87,252.44 403.34,251.72 404.82,251 406.3,250.16 407.78,249.32 409.26,248.48 410.73,247.64 412.21,246.8 419.6,244.7 426.99,242 434.38,239.6 441.77,237.8 449.16,236.6 456.54,235.3 463.93,234.8 471.32,234.4 478.71,234 486.1,233.6 493.49,234.8 500.88,236 508.27,237 515.66,237.9 523.04,238.9 530.43,239.8 537.82,241 545.21,241.7 552.6,242.7 559.99,243.2 567.38,243.5 574.77,243.9 582.16,244.6 589.54,245.1 596.93,246.3 604.32,248.2 612.3,250.2" fill="none" stroke="#000" stroke-width="0.9" stroke-linejoin="round"/>
<circle cx="356.65" cy="250.4" r="1.85" fill="#000"/>
<circle cx="357.53" cy="251.05" r="1.85" fill="#000"/>
<circle cx="358.42" cy="251.69" r="1.85" fill="#000"/>
<circle cx="359.31" cy="252.34" r="1.85" fill="#000"/>
<circle cx="360.19" cy="252.98" r="1.85" fill="#000"/>
<circle cx="361.08" cy="253.43" r="1.85" fill="#000"/>
<circle cx="361.97" cy="253.77" r="1.85" fill="#000"/>
<circle cx="362.85" cy="254.12" r="1.85" fill="#000"/>
<circle cx="363.74" cy="254.47" r="1.85" fill="#000"/>
<circle cx="364.63" cy="254.81" r="1.85" fill="#000"/>
<circle cx="365.51" cy="255.16" r="1.85" fill="#000"/>
<circle cx="366.4" cy="255.5" r="1.85" fill="#000"/>
<circle cx="367.29" cy="255.69" r="1.85" fill="#000"/>
<circle cx="368.17" cy="255.88" r="1.85" fill="#000"/>
<circle cx="375.27" cy="257.4" r="1.85" fill="#000"/>
<circle cx="382.66" cy="258" r="1.85" fill="#000"/>
<circle cx="384.13" cy="257.84" r="1.85" fill="#000"/>
<circle cx="385.61" cy="257.68" r="1.85" fill="#000"/>
<circle cx="387.09" cy="257.52" r="1.85" fill="#000"/>
<circle cx="388.57" cy="257.36" r="1.85" fill="#000"/>
<circle cx="390.04" cy="257.2" r="1.85" fill="#000"/>
<circle cx="391.52" cy="256.68" r="1.85" fill="#000"/>
<circle cx="393" cy="256.16" r="1.85" fill="#000"/>
<circle cx="394.48" cy="255.64" r="1.85" fill="#000"/>
<circle cx="395.96" cy="255.12" r="1.85" fill="#000"/>
<circle cx="397.43" cy="254.6" r="1.85" fill="#000"/>
<circle cx="398.91" cy="253.88" r="1.85" fill="#000"/>
<circle cx="400.39" cy="253.16" r="1.85" fill="#000"/>
<circle cx="401.87" cy="252.44" r="1.85" fill="#000"/>
<circle cx="403.34" cy="251.72" r="1.85" fill="#000"/>
<circle cx="404.82" cy="251" r="1.85" fill="#000"/>
<circle cx="406.3" cy="250.16" r="1.85" fill="#000"/>
<circle cx="407.78" cy="249.32" r="1.85" fill="#000"/>
<circle cx="409.26" cy="248.48" r="1.85" fill="#000"/>
<circle cx="410.73" cy="247.64" r="1.85" fill="#000"/>
<circle cx="412.21" cy="246.8" r="1.85" fill="#000"/>
<circle cx="419.6" cy="244.7" r="1.85" fill="#000"/>
<circle cx="426.99" cy="242" r="1.85" fill="#000"/>
<circle cx="434.38" cy="239.6" r="1.85" fill="#000"/>
<circle cx="441.77" cy="237.8" r="1.85" fill="#000"/>
<circle cx="449.16" cy="236.6" r="1.85" fill="#000"/>
<circle cx="456.54" cy="235.3" r="1.85" fill="#000"/>
<circle cx="463.93" cy="234.8" r="1.85" fill="#000"/>
<circle cx="471.32" cy="234.4" r="1.85" fill="#000"/>
<circle cx="478.71" cy="234" r="1.85" fill="#000"/>
<circle cx="486.1" cy="233.6" r="1.85" fill="#000"/>
<circle cx="493.49" cy="234.8" r="1.85" fill="#000"/>
<circle cx="500.88" cy="236" r="1.85" fill="#000"/>
<circle cx="508.27" cy="237" r="1.85" fill="#000"/>
<circle cx="515.66" cy="237.9" r="1.85" fill="#000"/>
<circle cx="523.04" cy="238.9" r="1.85" fill="#000"/>
<circle cx="530.43" cy="239.8" r="1.85" fill="#000"/>
<circle cx="537.82" cy="241" r="1.85" fill="#000"/>
<circle cx="545.21" cy="241.7" r="1.85" fill="#000"/>
<circle cx="552.6" cy="242.7" r="1.85" fill="#000"/>
<circle cx="559.99" cy="243.2" r="1.85" fill="#000"/>
<circle cx="567.38" cy="243.5" r="1.85" fill="#000"/>
<circle cx="574.77" cy="243.9" r="1.85" fill="#000"/>
<circle cx="582.16" cy="244.6" r="1.85" fill="#000"/>
<circle cx="589.54" cy="245.1" r="1.85" fill="#000"/>
<circle cx="596.93" cy="246.3" r="1.85" fill="#000"/>
<circle cx="604.32" cy="248.2" r="1.85" fill="#000"/>
<circle cx="612.3" cy="250.2" r="1.85" fill="#000"/>
<polyline points="367.88,252.5 369.36,251.3 370.83,249.8 372.31,248.3 373.79,247 375.27,246 382.66,243.4 390.04,239 397.43,233.9 404.82,228.2 412.21,221.5 419.6,214.3 426.99,205 434.38,195 441.77,184 449.16,172.3 456.54,160 463.93,148 471.32,134 478.71,122.5 486.1,110 493.49,97.8 500.88,88.7 508.27,80 515.66,74.9 523.04,73.4 530.43,74.7 537.82,80 545.21,90.2 552.6,104.2 559.99,120.3 567.38,138.9 574.77,157.8 582.16,179.9 589.54,201 596.93,211.6 604.32,249.4 605.8,248.2 607.28,249.5 608.76,251 610.23,252.4 612.15,253.5" fill="none" stroke="#000" stroke-width="1.0" stroke-linejoin="round"/>
<circle cx="367.88" cy="252.5" r="3.5" fill="#000"/>
<circle cx="369.36" cy="251.3" r="3.5" fill="#000"/>
<circle cx="370.83" cy="249.8" r="3.5" fill="#000"/>
<circle cx="372.31" cy="248.3" r="3.5" fill="#000"/>
<circle cx="373.79" cy="247" r="3.5" fill="#000"/>
<circle cx="375.27" cy="246" r="3.5" fill="#000"/>
<circle cx="382.66" cy="243.4" r="3.5" fill="#000"/>
<circle cx="390.04" cy="239" r="3.5" fill="#000"/>
<circle cx="397.43" cy="233.9" r="3.5" fill="#000"/>
<circle cx="404.82" cy="228.2" r="3.5" fill="#000"/>
<circle cx="412.21" cy="221.5" r="3.5" fill="#000"/>
<circle cx="419.6" cy="214.3" r="3.5" fill="#000"/>
<circle cx="426.99" cy="205" r="3.5" fill="#000"/>
<circle cx="434.38" cy="195" r="3.5" fill="#000"/>
<circle cx="441.77" cy="184" r="3.5" fill="#000"/>
<circle cx="449.16" cy="172.3" r="3.5" fill="#000"/>
<circle cx="456.54" cy="160" r="3.5" fill="#000"/>
<circle cx="463.93" cy="148" r="3.5" fill="#000"/>
<circle cx="471.32" cy="134" r="3.5" fill="#000"/>
<circle cx="478.71" cy="122.5" r="3.5" fill="#000"/>
<circle cx="486.1" cy="110" r="3.5" fill="#000"/>
<circle cx="493.49" cy="97.8" r="3.5" fill="#000"/>
<circle cx="500.88" cy="88.7" r="3.5" fill="#000"/>
<circle cx="508.27" cy="80" r="3.5" fill="#000"/>
<circle cx="515.66" cy="74.9" r="3.5" fill="#000"/>
<circle cx="523.04" cy="73.4" r="3.5" fill="#000"/>
<circle cx="530.43" cy="74.7" r="3.5" fill="#000"/>
<circle cx="537.82" cy="80" r="3.5" fill="#000"/>
<circle cx="545.21" cy="90.2" r="3.5" fill="#000"/>
<circle cx="552.6" cy="104.2" r="3.5" fill="#000"/>
<circle cx="559.99" cy="120.3" r="3.5" fill="#000"/>
<circle cx="567.38" cy="138.9" r="3.5" fill="#000"/>
<circle cx="574.77" cy="157.8" r="3.5" fill="#000"/>
<circle cx="582.16" cy="179.9" r="3.5" fill="#000"/>
<circle cx="589.54" cy="201" r="3.5" fill="#000"/>
<circle cx="596.93" cy="211.6" r="3.5" fill="#000"/>
<circle cx="604.32" cy="249.4" r="3.5" fill="#000"/>
<circle cx="605.8" cy="248.2" r="3.5" fill="#000"/>
<circle cx="607.28" cy="249.5" r="3.5" fill="#000"/>
<circle cx="608.76" cy="251" r="3.5" fill="#000"/>
<circle cx="610.23" cy="252.4" r="3.5" fill="#000"/>
<circle cx="612.15" cy="253.5" r="3.5" fill="#000"/>
<path d="M604.32 240.63L608.12 247.63H600.52Z" fill="#fff" stroke="#000" stroke-width="1.0"/>
<text x="527.7" y="61.7" font-size="20" transform="rotate(0.03 527.7 61.7)">-F</text><text x="545.0" y="69.6" font-size="14.2" letter-spacing="-0.5" transform="rotate(0.03 545.0 69.6)">12</text><text x="558.1" y="61.7" font-size="20" transform="rotate(0.03 558.1 61.7)">/F</text><text x="575.0" y="69.6" font-size="14.2" letter-spacing="-0.5" transform="rotate(0.03 575.0 69.6)">11</text>
</g>
</svg></body></html>
